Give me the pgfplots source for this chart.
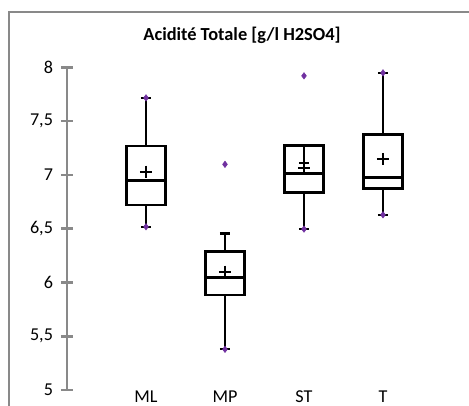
\documentclass[border=0pt]{standalone}
\usepackage{pgfplots}
\pgfplotsset{compat=1.18}
\usepackage{fontspec}
\setmainfont{Carlito}
\definecolor{axgray}{RGB}{137,137,137}
\definecolor{ptpurple}{RGB}{112,48,160}
\begin{document}
\begin{tikzpicture}
\path[use as bounding box] (-50.25pt,-11.25pt) rectangle (301.5pt,292.5pt);
\clip (-50.25pt,-11.25pt) rectangle (301.5pt,292.5pt);
\draw[axgray, line width=1.5pt] (-43.5pt,-40pt) rectangle (330pt,283.5pt);
\node[font=\fontsize{13.8pt}{16pt}\selectfont\bfseries] at (131.25pt,266.25pt) {Acidité Totale [g/l H2SO4]};
\begin{axis}[
  at={(0pt,0pt)}, anchor=south west,
  scale only axis, width=296.25pt, height=242pt,
  xmin=0, xmax=5, ymin=5, ymax=8,
  axis x line=bottom, axis y line=left,
  x axis line style={draw=none},
  y axis line style={-, draw=axgray, line width=2pt},
  xtick={1,2,3,4}, xticklabels={ML,MP,ST,T},
  xtick style={draw=none},
  ytick={5,5.5,6,6.5,7,7.5,8},
  ytick align=center, major tick length=9pt,
  ytick style={draw=axgray, line width=2pt},
  /pgf/number format/use comma,
  /pgf/number format/assume math mode=true,
  tick label style={font=\fontsize{13.6pt}{16pt}\selectfont},
  yticklabel style={xshift=-2.5pt},
  xticklabel style={yshift=7.5pt},
  clip=false,
  unbounded coords=jump,
  boxst/.style={black, line width=2pt, line cap=rect, line join=miter, mark=none},
  whst/.style={black, line width=1.7pt, mark=none},
]
% ML
\addplot[boxst] coordinates {(0.755,6.72) (1.245,6.72) (1.245,7.268) (0.755,7.268) (0.755,6.72) (1,nan) (0.755,6.945) (1.245,6.945)};
\addplot[whst] coordinates {(1,7.268) (1,7.716) (1,nan) (0.935,7.716) (1.065,7.716) (1,nan) (1,6.72) (1,6.518) (1,nan) (0.935,6.518) (1.065,6.518)};
% MP
\addplot[boxst] coordinates {(1.755,5.883) (2.245,5.883) (2.245,6.29) (1.755,6.29) (1.755,5.883) (2,nan) (1.755,6.044) (2.245,6.044)};
\addplot[whst] coordinates {(2,6.29) (2,6.456) (2,nan) (1.935,6.456) (2.065,6.456) (2,nan) (2,5.883) (2,5.378) (2,nan) (1.935,5.378) (2.065,5.378)};
% ST
\addplot[boxst] coordinates {(2.755,6.837) (3.245,6.837) (3.245,7.274) (2.755,7.274) (2.755,6.837) (3,nan) (2.755,7.014) (3.245,7.014)};
\addplot[whst] coordinates {(3,7.274) (3,7.112) (3,nan) (2.935,7.112) (3.065,7.112) (3,nan) (3,6.837) (3,6.496) (3,nan) (2.935,6.496) (3.065,6.496)};
% T
\addplot[boxst] coordinates {(3.755,6.871) (4.245,6.871) (4.245,7.373) (3.755,7.373) (3.755,6.871) (4,nan) (3.755,6.973) (4.245,6.973)};
\addplot[whst] coordinates {(4,7.373) (4,7.949) (4,nan) (3.935,7.949) (4.065,7.949) (4,nan) (4,6.871) (4,6.629) (4,nan) (3.935,6.629) (4.065,6.629)};
% means
\addplot[only marks, mark=+, mark size=4.6pt, mark options={black, line width=1.5pt}] coordinates {(1,7.03) (2,6.10) (3,7.06) (4,7.147)};
% min / max / outliers
\addplot[only marks, mark=diamond*, mark size=2.4pt, draw=ptpurple, fill=ptpurple] coordinates {
 (1,7.716) (1,6.518) (2,7.098) (2,5.378) (3,7.921) (3,6.496) (4,7.949) (4,6.629)};
\end{axis}
\end{tikzpicture}
\end{document}
